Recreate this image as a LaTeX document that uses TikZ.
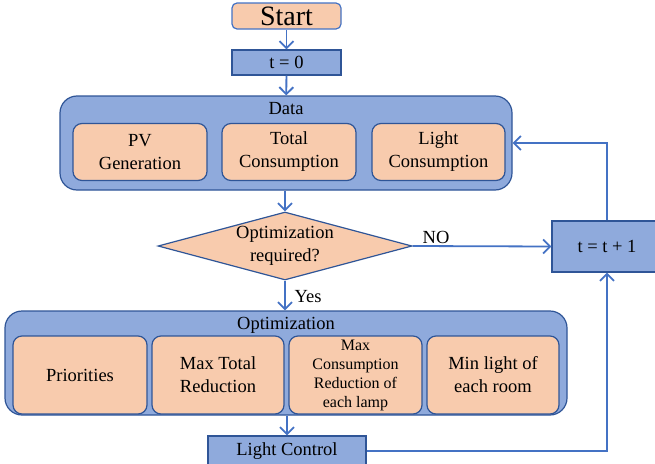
\documentclass[tikz,border=0pt]{standalone}
\usepackage{fontspec}
\setmainfont{Liberation Serif}
\usetikzlibrary{shapes.geometric,arrows.meta}
\definecolor{peach}{HTML}{F8CBAD}
\definecolor{bluefill}{HTML}{8FAADC}
\definecolor{edgec}{HTML}{2F5597}
\definecolor{arrowc}{HTML}{4472C4}
\tikzset{
  txt/.style={font=\fontsize{18.5}{23}\selectfont, align=center},
  box/.style={draw=edgec, line width=1.2pt, inner sep=0pt, txt},
  peachbox/.style={box, fill=peach, rounded corners=9pt},
  bluebox/.style={box, fill=bluefill},
  container/.style={draw=edgec, fill=bluefill, rounded corners=17pt, line width=1.2pt, inner sep=0pt},
  conn/.style={draw=arrowc, line width=1.8pt, -{Straight Barb[length=7pt,width=14pt,line width=1.8pt]}},
}
\begin{document}
\begin{tikzpicture}[x=1pt,y=-1pt]
\useasboundingbox (0,0) rectangle (655,463);
\node[peachbox, draw=arrowc, rounded corners=5pt, minimum width=109pt, minimum height=26pt, font=\fontsize{28}{30}\selectfont] (start) at (286.5,16) {Start};
\node[bluebox, minimum width=109pt, minimum height=25pt] (t0) at (286.5,62.5) {t = 0};
\node[container, minimum width=452pt, minimum height=94pt] (data) at (286,143) {};
\node[txt] (datalbl) at (286,109) {Data};
\node[peachbox, minimum width=134pt, minimum height=57pt] (pv) at (140,152) {PV\\Generation};
\node[peachbox, minimum width=134pt, minimum height=57pt] (tot) at (289,152) {Total\\Consumption};
\node[peachbox, minimum width=133pt, minimum height=57pt] (light) at (438.5,152) {Light\\Consumption};
\node[draw=edgec, line width=1.2pt, fill=peach, shape=diamond, aspect=3.7, inner sep=0pt, minimum width=254pt, minimum height=68pt, txt] (dec) at (285,246) {Optimization\\required?};
\node[bluebox, minimum width=110pt, minimum height=51pt] (tnext) at (607,246.5) {t = t + 1};
\node[container, minimum width=562pt, minimum height=104pt] (opt) at (286,363) {};
\node[txt] (optlbl) at (286,325) {Optimization};
\node[peachbox, minimum width=134pt, minimum height=78pt] (prio) at (80,375) {Priorities};
\node[peachbox, minimum width=132pt, minimum height=78pt] (maxtot) at (218,375) {Max Total\\Reduction};
\node[peachbox, minimum width=133pt, minimum height=78pt, font=\fontsize{16}{19}\selectfont] (maxcons) at (355.5,375) {Max\\Consumption\\Reduction of\\each lamp};
\node[peachbox, minimum width=132pt, minimum height=78pt] (minlight) at (493,375) {Min light of\\each room};
\node[bluebox, minimum width=158pt, minimum height=30pt] (lc) at (287,451) {Light Control};
\draw[conn] (start) -- (t0);
\draw[conn] (t0) -- (data);
\draw[conn] (data.south -| dec.north) -- (dec.north);
\draw[conn] (dec.south) -- (opt.north -| dec.south);
\draw[conn] (dec.east) -- (tnext.west);
\draw[conn] (tnext.north) |- (data.east);
\draw[conn] (opt.south -| lc.north) -- (lc.north);
\draw[conn] (lc.east) -| (tnext.south);
\node[txt, anchor=base] (nolbl) at (436,243) {NO};
\node[txt, anchor=base west] (yeslbl) at (291,302) {Yes};
\end{tikzpicture}
\end{document}
